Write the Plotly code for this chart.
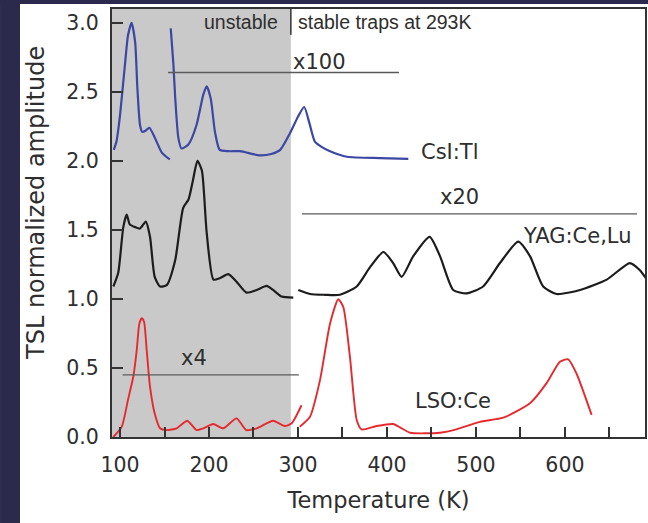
import plotly.graph_objects as go

# ---------------- data ----------------
# CsI:Tl (blue), two measured segments
csi1_t = [93, 96, 100, 105.6, 109, 113, 117, 119.5, 122.5, 125, 129, 133, 139, 147, 156]
csi1_y = [2.08, 2.14, 2.33, 2.70, 2.91, 3.00, 2.86, 2.53, 2.26, 2.21, 2.22, 2.24, 2.17, 2.06, 2.01]
csi2_t = [157, 160, 162, 165.5, 169, 177, 186, 193.6, 197.4, 202, 206.7, 212, 222, 235,
          257, 270, 280, 291, 300, 307, 313, 319, 327, 336, 355, 392, 424]
csi2_y = [2.96, 2.70, 2.46, 2.17, 2.09, 2.12, 2.26, 2.48, 2.54, 2.45, 2.21, 2.08, 2.07, 2.07,
          2.04, 2.05, 2.08, 2.20, 2.32, 2.39, 2.27, 2.14, 2.10, 2.07, 2.03, 2.02, 2.015]

# YAG:Ce,Lu (black)
yag1_t = [92.5, 98, 103.7, 107.5, 111, 117, 122.5, 129, 133.7, 139, 145, 152.5, 162, 171,
          177, 182, 187, 192, 197.4, 205, 212, 221.7, 231, 242, 253.6, 264.8, 272, 281.7, 294.7]
yag1_y = [1.09, 1.19, 1.52, 1.61, 1.54, 1.52, 1.51, 1.56, 1.45, 1.16, 1.09, 1.10, 1.28, 1.66,
          1.72, 1.86, 2.00, 1.93, 1.48, 1.14, 1.15, 1.18, 1.125, 1.046, 1.065, 1.094, 1.065, 1.017, 1.01]
yag2_t = [300.4, 313.5, 330, 347, 366, 381, 396, 407, 416.5, 429.6, 448, 459.6, 474.5, 489.6,
          508, 527, 547.5, 560.7, 575.6, 590.6, 617, 647, 673, 684, 691]
yag2_y = [1.065, 1.036, 1.03, 1.03, 1.09, 1.23, 1.34, 1.26, 1.16, 1.31, 1.45, 1.31, 1.065, 1.04,
          1.09, 1.26, 1.415, 1.31, 1.09, 1.036, 1.065, 1.14, 1.26, 1.21, 1.15]

# LSO:Ce (red)
lso1_t = [92.5, 102, 109, 115, 118.8, 121.7, 124.4, 127, 130, 133.7, 139, 145, 152.5, 163.7,
          175.6, 186, 193.6, 204.8, 216, 231, 242, 253.6, 272, 285, 293, 304]
lso1_y = [0.0, 0.075, 0.27, 0.44, 0.63, 0.82, 0.86, 0.835, 0.63, 0.365, 0.17, 0.063, 0.05, 0.063,
          0.118, 0.05, 0.063, 0.094, 0.063, 0.135, 0.05, 0.063, 0.118, 0.08, 0.10, 0.23]
lso2_t = [302, 313.5, 324.7, 336, 345.3, 351, 358.4, 366, 371.5, 388.4, 407, 414.6, 426, 459.6,
          478, 504.5, 530.7, 560.7, 579.4, 594.4, 603.7, 613, 630]
lso2_y = [0.075, 0.147, 0.41, 0.82, 0.998, 0.94, 0.58, 0.123, 0.055, 0.08, 0.094, 0.07, 0.031, 0.031,
          0.055, 0.11, 0.14, 0.244, 0.39, 0.545, 0.563, 0.46, 0.16]

x_ticks = [100, 150, 200, 250, 300, 350, 400, 450, 500, 550, 600, 650]
x_ticktext = ["100", "", "200", "", "300", "", "400", "", "500", "", "600", ""]
y_ticks = [0.0, 0.5, 1.0, 1.5, 2.0, 2.5, 3.0]
y_ticktext = ["0.0", "0.5", "1.0", "1.5", "2.0", "2.5", "3.0"]

unstable_limit = 292

# scale-factor bars: (x0, x1, y)
scale_bars = [(154, 413.5, 2.64), (304.5, 681, 1.616), (103, 301, 0.45)]
scale_labels = [("x100", 324.7, 2.714), ("x20", 481.5, 1.739), ("x4", 183, 0.569)]
sample_labels = [("CsI:Tl", 436, 2.065), ("YAG:Ce,Lu", 551, 1.457), ("LSO:Ce", 429, 0.264)]

BLUE = "#3b47a3"
BLACK = "#1c1c1c"
RED = "#e52a2f"
TXT = "#2e2e2e"
WIDE = "DejaVu Sans, Verdana, sans-serif"
NARROW = "Liberation Sans, Arial, sans-serif"

fig = go.Figure()

def add(t, y, color, width=2.2):
    fig.add_trace(go.Scatter(x=t, y=y, mode="lines",
                             line=dict(color=color, width=width, shape="spline", smoothing=0.6),
                             showlegend=False, hoverinfo="skip"))

add(csi1_t, csi1_y, BLUE)
add(csi2_t, csi2_y, BLUE)
add(yag1_t, yag1_y, BLACK)
add(yag2_t, yag2_y, BLACK)
add(lso1_t, lso1_y, RED, 1.9)
add(lso2_t, lso2_y, RED, 1.9)

shapes = []
# page background: white panel with navy border strips (paper coords)
shapes.append(dict(type="rect", xref="paper", yref="paper", x0=-0.2101, x1=-0.1726,
                   y0=-0.205, y1=1.025, fillcolor="#2b2a4d", line_width=0, layer="below"))
shapes.append(dict(type="rect", xref="paper", yref="paper", x0=-0.2101, x1=1.01,
                   y0=1.0117, y1=1.025, fillcolor="#2b2a4d", line_width=0, layer="below"))
# unstable region shading
shapes.append(dict(type="rect", xref="x", yref="paper", x0=91, x1=unstable_limit, y0=0, y1=1,
                   fillcolor="#c9c9c9", line_width=0, layer="below"))
# divider tick at top
shapes.append(dict(type="line", xref="x", yref="y", x0=unstable_limit, x1=unstable_limit,
                   y0=2.913, y1=3.1, line=dict(color="#333333", width=1.5)))
for x0, x1, yv in scale_bars:
    shapes.append(dict(type="line", xref="x", yref="y", x0=x0, x1=x1, y0=yv, y1=yv,
                       line=dict(color="#5a5a5a", width=1.3)))

ann = []
ann.append(dict(x=279.8, y=3.007, text="unstable", xanchor="right", yanchor="middle",
                showarrow=False, font=dict(size=19.5, color=TXT, family=NARROW)))
ann.append(dict(x=297.8, y=3.007, text="stable traps at 293K", xanchor="left", yanchor="middle",
                showarrow=False, font=dict(size=19.5, color=TXT, family=NARROW)))
for txt, xv, yv in scale_labels:
    ann.append(dict(x=xv, y=yv, text=txt, xanchor="center", yanchor="middle", showarrow=False,
                    font=dict(size=21, color=TXT, family=WIDE)))
for txt, xv, yv in sample_labels:
    ann.append(dict(x=xv, y=yv, text=txt, xanchor="left", yanchor="middle", showarrow=False,
                    font=dict(size=21, color=TXT, family=WIDE)))
# y-axis title (placed where it sits in the original, slightly above plot centre)
ann.append(dict(xref="paper", yref="paper", x=(36 - 112) / 533, y=(437 - 203) / 428,
                text="TSL normalized amplitude", textangle=-90, xanchor="center", yanchor="middle",
                showarrow=False, font=dict(size=24, color=TXT, family=WIDE)))

fig.update_layout(
    template="none",
    width=648, height=523,
    margin=dict(l=112, r=3, t=9, b=86, pad=0),
    paper_bgcolor="white", plot_bgcolor="white",
    shapes=shapes, annotations=ann,
    font=dict(family=WIDE, color=TXT),
)
fig.update_xaxes(range=[91, 690], tickmode="array", tickvals=x_ticks, ticktext=x_ticktext,
                 ticks="inside", ticklen=10, tickwidth=2, tickcolor="#333333",
                 showline=True, linecolor="#333333", linewidth=2, mirror=True,
                 showgrid=False, zeroline=False, automargin=False, ticklabelstandoff=8,
                 tickfont=dict(size=20.5, family=WIDE, color=TXT),
                 title=dict(text="Temperature (K)", font=dict(size=22.5, family=WIDE, color=TXT), standoff=17))
fig.update_yaxes(range=[0, 3.1], tickmode="array", tickvals=y_ticks, ticktext=y_ticktext,
                 ticks="inside", ticklen=11, tickwidth=2, tickcolor="#333333",
                 showline=True, linecolor="#333333", linewidth=2, mirror=True,
                 showgrid=False, zeroline=False, automargin=False, ticklabelstandoff=7,
                 tickfont=dict(size=20.5, family=WIDE, color=TXT))

fig.write_html("out.html")
